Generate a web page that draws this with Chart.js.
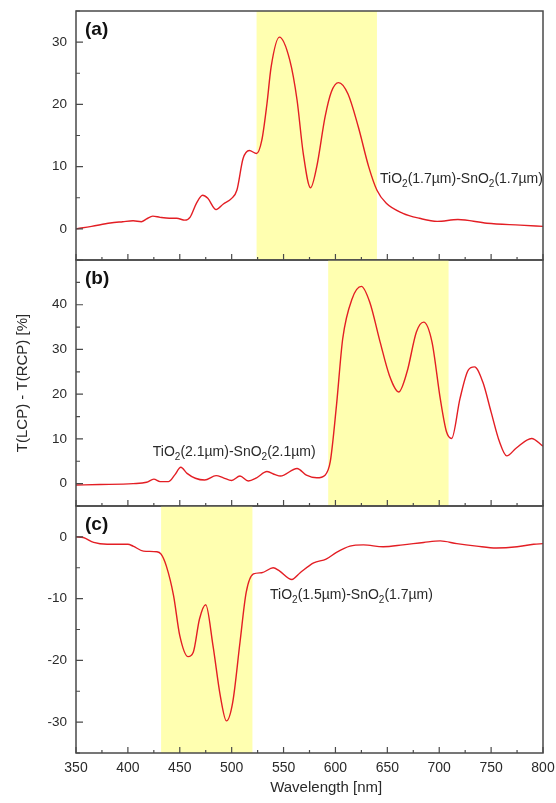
<!DOCTYPE html>
<html>
<head>
<meta charset="utf-8">
<script src="https://cdn.jsdelivr.net/npm/chart.js@4"></script>
<style>
  html, body { margin: 0; padding: 0; background: #fff; }
  #wrap { position: relative; width: 556px; height: 803px; }
  #wrap canvas { position: absolute; left: 0; }
</style>
</head>
<body>
<div id="wrap">
  <canvas id="panel-a" width="556" height="270" style="top:0px"></canvas>
  <canvas id="panel-b" width="556" height="266" style="top:250px"></canvas>
  <canvas id="panel-c" width="556" height="307" style="top:496px"></canvas>
</div>
<script>
/* 円偏光透過差スペクトル 3段パネル */

// (a) TiO2(1.7µm)-SnO2(1.7µm)
const waveA = [350, 365, 383, 395, 405, 413, 418, 424, 431, 440, 447, 455, 460, 466, 472, 477, 485, 492, 500, 505,
  511, 517, 524, 529, 534, 538, 546, 556, 563, 569, 576, 582, 590, 596, 603, 612, 622, 632, 640, 649,
  665, 681, 698, 718, 746, 778, 800];
const valA = [0.0, 0.4, 0.95, 1.15, 1.3, 1.15, 1.6, 2.05, 1.85, 1.7, 1.7, 1.4, 1.9, 4.1, 5.4, 4.9, 3.1, 4.0, 4.9, 6.2,
  11.3, 12.6, 12.1, 14.2, 20.1, 26.0, 30.8, 27.1, 20.7, 12.1, 6.6, 10.0, 18.0, 22.0, 23.5, 21.7, 16.4, 10.0, 6.2, 4.1,
  2.5, 1.7, 1.2, 1.5, 0.9, 0.6, 0.4];

// (b) TiO2(2.1µm)-SnO2(2.1µm)
const waveB = [350, 373, 405, 418, 425, 431, 439, 445, 451, 457, 465, 474, 485, 492, 500, 508, 516, 524, 534, 542,
  547, 563, 572, 582, 590, 595, 601, 607, 616, 625, 633, 643, 652, 661, 669, 678, 685, 693, 701, 707,
  712, 720, 728, 734, 742, 750, 758, 765, 774, 789, 800];
const valB = [-0.3, -0.2, 0.0, 0.3, 1.0, 0.45, 0.45, 1.9, 3.65, 2.3, 1.2, 0.8, 1.8, 1.3, 0.7, 1.7, 0.6, 1.3, 2.7, 2.0,
  1.7, 3.4, 1.9, 1.3, 1.9, 4.9, 17.5, 32.4, 41.3, 44.1, 40.6, 31.7, 24.2, 20.5, 25.0, 33.9, 36.1, 31.7, 19.0, 11.6,
  10.1, 19.0, 25.4, 26.1, 22.7, 16.0, 9.4, 6.2, 7.9, 10.1, 8.4];

// (c) TiO2(1.5µm)-SnO2(1.7µm)
const waveC = [350, 357, 367, 380, 400, 405, 415, 428, 432, 437, 444, 450, 458, 463, 469, 475, 482, 489, 495, 501,
  508, 514, 521, 529, 540, 546, 558, 566, 579, 591, 601, 614, 627, 646, 665, 685, 701, 717, 736, 755,
  775, 791, 800];
const valC = [0.0, -0.1, -0.9, -1.2, -1.2, -1.5, -2.3, -2.4, -2.8, -4.7, -9.5, -16.0, -19.4, -18.7, -13.3, -11.0, -17.6, -25.7, -29.8, -26.8,
  -17.1, -9.0, -6.0, -5.8, -5.0, -5.5, -6.9, -5.8, -4.2, -3.6, -2.5, -1.5, -1.3, -1.6, -1.3, -0.9, -0.65, -1.1, -1.5, -1.8,
  -1.6, -1.2, -1.1];

// 黄色の帯（波長範囲）
const bandA = [524, 640];
const bandB = [593, 709];
const bandC = [432, 520];

const FONT = "Arial, 'Liberation Sans', sans-serif";
const LINE_COLOR = "#e31e24";
const BAND_COLOR = "#ffffb0";
const FRAME_COLOR = "#4a4a4a";
const TEXT_COLOR = "#2a2a2a";

// 帯・内向き目盛・枠・注記
const panelDeco = {
  id: "panelDeco",
  beforeDatasetsDraw(chart, args, o) {
    const { ctx, chartArea: a, scales: { x } } = chart;
    const x0 = x.getPixelForValue(o.band[0]);
    const x1 = x.getPixelForValue(o.band[1]);
    ctx.save();
    ctx.fillStyle = BAND_COLOR;
    ctx.fillRect(x0, a.top, x1 - x0, a.bottom - a.top);
    ctx.restore();
  },
  afterDraw(chart, args, o) {
    const { ctx, chartArea: a, scales: { x, y } } = chart;
    ctx.save();
    ctx.strokeStyle = FRAME_COLOR;
    ctx.lineWidth = 1.2;
    ctx.beginPath();
    y.ticks.forEach(t => {
      const py = y.getPixelForValue(t.value);
      const len = t.value % 10 === 0 ? 7 : 4;
      ctx.moveTo(a.left, py);
      ctx.lineTo(a.left + len, py);
    });
    x.ticks.forEach(t => {
      const px = x.getPixelForValue(t.value);
      const len = t.value % 50 === 0 ? 6 : 3;
      ctx.moveTo(px, a.bottom);
      ctx.lineTo(px, a.bottom - len);
    });
    ctx.stroke();

    ctx.lineWidth = 1.5;
    ctx.strokeRect(a.left, a.top, a.right - a.left, a.bottom - a.top);

    // パネル記号
    ctx.fillStyle = "#111";
    ctx.font = "bold 19px " + FONT;
    ctx.textBaseline = "middle";
    ctx.fillText(o.tag, a.left + 9, a.top + 19);

    // 試料名（下付き文字つき）
    let px = x.getPixelForValue(o.note.x);
    const py = y.getPixelForValue(o.note.y);
    ctx.fillStyle = TEXT_COLOR;
    o.note.parts.forEach(([txt, sub]) => {
      ctx.font = (sub ? "10px " : "14px ") + FONT;
      ctx.fillText(txt, px, sub ? py + 5 : py);
      px += ctx.measureText(txt).width;
    });
    ctx.restore();
  }
};

function sampleParts(ti, sn) {
  return [["TiO", 0], ["2", 1], ["(" + ti + "µm)-SnO", 0], ["2", 1], ["(" + sn + "µm)", 0]];
}

function makePanel(id, waves, vals, cfg) {
  const canvas = document.getElementById(id);
  const points = waves.map((w, i) => ({ x: w, y: vals[i] }));
  return new Chart(canvas.getContext("2d"), {
    type: "line",
    data: {
      datasets: [{
        data: points,
        borderColor: LINE_COLOR,
        borderWidth: 1.4,
        pointRadius: 0,
        cubicInterpolationMode: "monotone",
        fill: false,
      }],
    },
    options: {
      responsive: false,
      animation: false,
      devicePixelRatio: 1,
      layout: { padding: { left: 0, right: 13, top: cfg.padTop, bottom: cfg.padBottom } },
      plugins: {
        legend: { display: false },
        tooltip: { enabled: false },
        panelDeco: { band: cfg.band, tag: cfg.tag, note: cfg.note },
      },
      scales: {
        x: {
          type: "linear",
          min: 350,
          max: 800,
          grid: { display: false, drawTicks: false },
          border: { display: false },
          ticks: {
            display: cfg.showX,
            stepSize: 25,
            autoSkip: false,
            maxRotation: 0,
            padding: 7,
            color: TEXT_COLOR,
            font: { family: FONT, size: 14 },
            callback: v => (v % 50 === 0 ? v : ""),
          },
          title: {
            display: cfg.showX,
            text: "        Wavelength [nm]",
            color: TEXT_COLOR,
            font: { family: FONT, size: 15 },
            padding: { top: 0, bottom: 6 },
          },
          afterFit: s => {
            s.height = cfg.showX ? 50 : 0;
            s.paddingLeft = 0;
            s.paddingRight = 0;
          },
        },
        y: {
          min: cfg.yMin,
          max: cfg.yMax,
          grid: { display: false, drawTicks: false },
          border: { display: false },
          ticks: {
            stepSize: 5,
            autoSkip: false,
            padding: 9,
            color: TEXT_COLOR,
            font: { family: FONT, size: 13.5 },
            callback: v => (v % 10 === 0 && v !== cfg.yMax && v !== cfg.yMin ? v : ""),
          },
          title: {
            display: !!cfg.yTitle,
            text: cfg.yTitle || "",
            color: TEXT_COLOR,
            font: { family: FONT, size: 15 },
            padding: { top: 14, bottom: 0 },
          },
          afterFit: s => {
            s.width = 76;
            s.paddingTop = 0;
            s.paddingBottom = 0;
          },
        },
      },
    },
    plugins: [panelDeco],
  });
}

makePanel("panel-a", waveA, valA, {
  yMin: -5, yMax: 35, padTop: 11, padBottom: 10, showX: false, band: bandA, tag: "(a)",
  note: { x: 643, y: 8, parts: sampleParts("1.7", "1.7") },
});

makePanel("panel-b", waveB, valB, {
  yMin: -5, yMax: 50, padTop: 10, padBottom: 10, showX: false, band: bandB, tag: "(b)",
  yTitle: "T(LCP) - T(RCP) [%]",
  note: { x: 424, y: 7.1, parts: sampleParts("2.1", "2.1") },
});

makePanel("panel-c", waveC, valC, {
  yMin: -35, yMax: 5, padTop: 10, padBottom: 0, showX: true, band: bandC, tag: "(c)",
  note: { x: 537, y: -9.4, parts: sampleParts("1.5", "1.7") },
});
</script>
</body>
</html>
